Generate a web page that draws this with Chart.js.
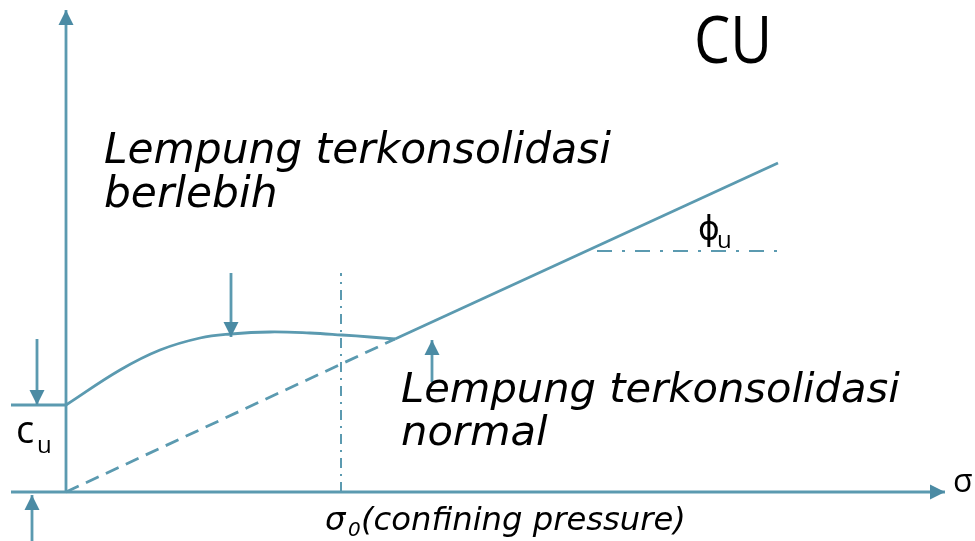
<!DOCTYPE html>
<html><head><meta charset="utf-8">
<script src="https://cdn.jsdelivr.net/npm/chart.js@4/dist/chart.umd.min.js"></script>
<style>html,body{margin:0;padding:0;background:#fff;overflow:hidden}#wrap{width:975px;height:541px;position:relative}</style>
</head><body><div id="wrap"><canvas id="c"></canvas></div>
<script>
// Diagram values (abstract units; origin at the axes corner)
const overconsolidatedX = [0, 5.4, 9.4, 13.4, 16.5, 20.4, 24.4, 27.6, 30.4, 32.9];
const overconsolidatedY = [8.7, 12.2, 14.2, 15.4, 15.8, 16.0, 15.9, 15.7, 15.5, 15.3];
const envelopeDashedX = [0, 32.9];
const envelopeDashedY = [0, 15.3];
const envelopeSolidX = [32.9, 71.2];
const envelopeSolidY = [15.3, 32.9];
const phiRefX = [53.1, 71.2];
const phiRefY = [24.1, 24.1];
const sigma0X = [27.5, 27.5];
const sigma0Y = [0, 21.9];
const cuLevelX = [-5.5, 0];
const cuLevelY = [8.7, 8.7];
const yAxisX = [0, 0];
const yAxisY = [0, 48.2];
const xAxisX = [-5.5, 87.9];
const xAxisY = [0, 0];
const ocArrowX = [16.5, 16.5];
const ocArrowY = [21.9, 15.5];
const ncArrowX = [36.6, 36.6];
const ncArrowY = [11.0, 15.2];
const cuTopArrowX = [-2.9, -2.9];
const cuTopArrowY = [15.3, 8.7];
const cuBottomArrowX = [-3.4, -3.4];
const cuBottomArrowY = [-4.9, -0.3];

const xRange = [-6.6, 90.9];
const yRange = [-4.9, 49.2];

const title = 'CU';
const ocLabel = ['Lempung terkonsolidasi', 'berlebih'];
const ncLabel = ['Lempung terkonsolidasi', 'normal'];
const xLabel = ['σ', '0', '(confining pressure)'];
const axisSymbol = 'σ';
const cuSymbol = ['c', 'u'];
const phiSymbol = ['ϕ', 'u'];

const LINE = '#5b9ab0';
const HEAD = '#4b8ba4';

function pts(xs, ys) { return xs.map((x, i) => ({x: x, y: ys[i]})); }
function ds(xs, ys, extra) {
  return Object.assign({
    data: pts(xs, ys), showLine: true, borderColor: LINE, borderWidth: 2.8,
    pointRadius: 0, pointHoverRadius: 0, fill: false, tension: 0
  }, extra || {});
}

const arrowHeads = {
  id: 'arrowHeads',
  afterDatasetsDraw(chart) {
    const ctx = chart.ctx;
    chart.data.datasets.forEach((d, i) => {
      if (!d.arrow) return;
      const m = chart.getDatasetMeta(i).data;
      const a = m[m.length - 2], b = m[m.length - 1];
      const ang = Math.atan2(b.y - a.y, b.x - a.x);
      const L = 15, W = 15;
      ctx.save();
      ctx.translate(b.x, b.y);
      ctx.rotate(ang);
      ctx.beginPath();
      ctx.moveTo(0, 0);
      ctx.lineTo(-L, -W / 2);
      ctx.lineTo(-L, W / 2);
      ctx.closePath();
      ctx.fillStyle = HEAD;
      ctx.fill();
      ctx.restore();
    });
  }
};

function fitFont(ctx, text, style, family, target) {
  ctx.font = style + ' 40px ' + family;
  const w = ctx.measureText(text).width;
  return 40 * target / w;
}

const labels = {
  id: 'labels',
  afterDraw(chart) {
    const ctx = chart.ctx;
    ctx.save();
    ctx.fillStyle = '#000';
    ctx.textBaseline = 'alphabetic';
    ctx.textAlign = 'left';
    // Title CU
    ctx.save();
    ctx.font = '66px "Open Sans"';
    const tw = ctx.measureText(title).width;
    ctx.translate(694, 63);
    ctx.scale(78 / tw, 1);
    ctx.fillText(title, 0, 0);
    ctx.restore();
    // Overconsolidated label
    const fam = '"DejaVu Sans"';
    let s1 = fitFont(ctx, ocLabel[0], 'oblique', fam, 507);
    ctx.font = 'oblique ' + s1 + 'px ' + fam;
    ctx.fillText(ocLabel[0], 104, 163);
    ctx.fillText(ocLabel[1], 104, 207);
    let s2 = fitFont(ctx, ncLabel[0], 'oblique', fam, 499);
    ctx.font = 'oblique ' + s2 + 'px ' + fam;
    ctx.fillText(ncLabel[0], 401, 402);
    ctx.fillText(ncLabel[1], 401, 445);
    // x label
    let s3 = fitFont(ctx, xLabel[2], 'oblique', fam, 325);
    ctx.font = 'oblique ' + s3 + 'px ' + fam;
    ctx.fillText(xLabel[0], 325, 530);
    ctx.font = 'oblique ' + (s3 * 0.62) + 'px ' + fam;
    ctx.fillText(xLabel[1], 348, 536);
    ctx.font = 'oblique ' + s3 + 'px ' + fam;
    ctx.fillText(xLabel[2], 361, 530);
    // sigma axis symbol
    ctx.font = '32px "Open Sans"';
    ctx.fillText(axisSymbol, 953, 492);
    // c_u
    ctx.font = '38px "Open Sans"';
    ctx.fillText(cuSymbol[0], 16, 443);
    ctx.font = '24px "Open Sans"';
    ctx.fillText(cuSymbol[1], 37, 453);
    // phi_u
    ctx.font = '33px "DejaVu Sans"';
    ctx.fillText(phiSymbol[0], 698, 240);
    ctx.font = '24px "Open Sans"';
    ctx.fillText(phiSymbol[1], 717, 248);
    ctx.restore();
  }
};

new Chart(document.getElementById('c'), {
  type: 'scatter',
  data: {
    datasets: [
      ds(yAxisX, yAxisY, {arrow: true}),
      ds(xAxisX, xAxisY, {arrow: true}),
      ds(cuLevelX, cuLevelY),
      ds(overconsolidatedX, overconsolidatedY, {tension: 0.4}),
      ds(envelopeDashedX, envelopeDashedY, {borderDash: [14, 8]}),
      ds(envelopeSolidX, envelopeSolidY),
      ds(phiRefX, phiRefY, {borderDash: [15, 10, 3, 10], borderWidth: 2}),
      ds(sigma0X, sigma0Y, {borderDash: [10, 6, 2, 6], borderWidth: 2}),
      ds(ocArrowX, ocArrowY, {arrow: true}),
      ds(ncArrowX, ncArrowY, {arrow: true}),
      ds(cuTopArrowX, cuTopArrowY, {arrow: true}),
      ds(cuBottomArrowX, cuBottomArrowY, {arrow: true})
    ]
  },
  options: {
    responsive: true, maintainAspectRatio: false, animation: false,
    layout: {padding: 0},
    plugins: {legend: {display: false}, tooltip: {enabled: false}},
    events: [],
    scales: {
      x: {type: 'linear', min: xRange[0], max: xRange[1], display: false},
      y: {type: 'linear', min: yRange[0], max: yRange[1], display: false}
    }
  },
  plugins: [arrowHeads, labels]
});
</script></body></html>
